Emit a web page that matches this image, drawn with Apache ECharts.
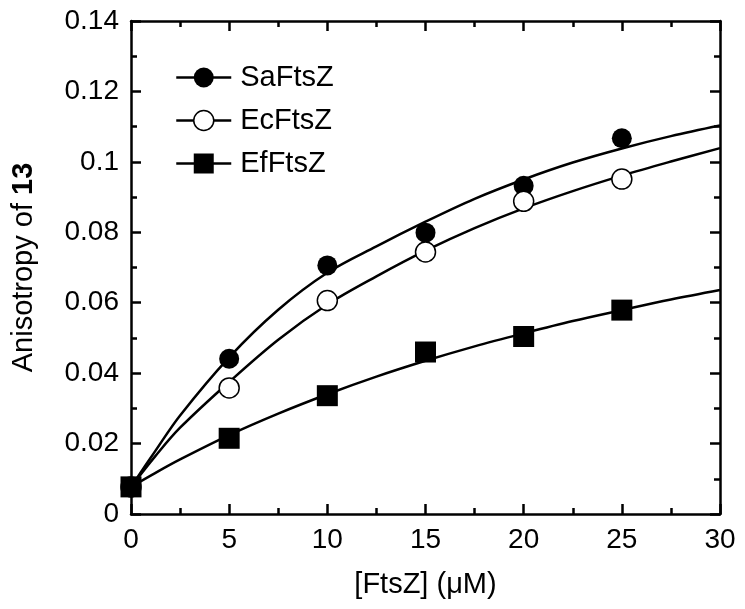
<!DOCTYPE html>
<html>
<head>
<meta charset="utf-8">
<script src="https://cdn.jsdelivr.net/npm/echarts@6/dist/echarts.min.js"></script>
<style>
html,body{margin:0;padding:0;background:#fff;}
#chart{width:745px;height:609px;}
</style>
</head>
<body>
<div id="chart"></div>
<script>
// Measured points
const xPoints = [0, 5, 10, 15, 20, 25];
const saPoints = [0.0077, 0.0441, 0.0706, 0.0799, 0.0932, 0.1067];
const ecPoints = [0.0077, 0.0358, 0.0606, 0.0744, 0.0888, 0.0951];
const efPoints = [0.0077, 0.0215, 0.0336, 0.0460, 0.0504, 0.0579];

// Fitted curves
const xCurve = [0, 1.25, 2.5, 5, 7.5, 10, 12.5, 15, 17.5, 20, 22.5, 25, 27.5, 30];
const saCurve = [0.0077, 0.0180, 0.0280, 0.0445, 0.0580, 0.0685, 0.0760, 0.0830, 0.0895, 0.0950, 0.0998, 0.1038, 0.1073, 0.1103];
const ecCurve = [0.0077, 0.0165, 0.0245, 0.0375, 0.0495, 0.0595, 0.0675, 0.0748, 0.0812, 0.0868, 0.0917, 0.0961, 0.1001, 0.1039];
const efCurve = [0.0077, 0.0117, 0.0155, 0.0224, 0.0285, 0.0340, 0.0390, 0.0435, 0.0476, 0.0513, 0.0548, 0.0579, 0.0609, 0.0636];

const seriesNames = ['SaFtsZ', 'EcFtsZ', 'EfFtsZ'];
const xTicks = { min: 0, max: 30, interval: 5 };
const yTicks = { min: 0, max: 0.14, interval: 0.02 };

const FONT = "'Liberation Sans', Arial, Helvetica, sans-serif";
const zip = (xs, ys) => xs.map((x, i) => [x, ys[i]]);

const axisLine = { show: true, onZero: false, lineStyle: { color: '#000', width: 2.5 } };
const axisTick = { show: true, inside: true, length: 10, lineStyle: { color: '#000', width: 2.5 } };
const minorTick = { show: true, splitNumber: 2, length: 6, lineStyle: { color: '#000', width: 2.5 } };

const chart = echarts.init(document.getElementById('chart'), null, { renderer: 'canvas' });

const curveSeries = (name, data, symbol, itemStyle) => ({
  name: name,
  type: 'line',
  data: data,
  smooth: 0.35,
  showSymbol: false,
  symbol: symbol,
  itemStyle: itemStyle,
  lineStyle: { color: '#000', width: 2.5, opacity: 1 },
  z: 2,
  silent: true
});
const pointSeries = (name, data, symbol, size, itemStyle) => ({
  name: name + ' data',
  type: 'scatter',
  data: data,
  symbol: symbol,
  symbolSize: size,
  itemStyle: itemStyle,
  z: 5,
  silent: true
});

const option = {
  backgroundColor: '#fff',
  animation: false,
  grid: { left: 131, right: 25, top: 21, bottom: 95, containLabel: false },
  legend: {
    data: [
      { name: seriesNames[0], itemStyle: { color: '#000', borderWidth: 0, opacity: 1 } },
      { name: seriesNames[1], itemStyle: { color: '#fff', borderColor: '#000', borderWidth: 1.5, opacity: 1 } },
      { name: seriesNames[2], itemStyle: { color: '#000', borderWidth: 0, opacity: 1 } }
    ],
    orient: 'vertical',
    left: 175,
    top: 63,
    padding: 0,
    itemWidth: 55,
    itemHeight: 25,
    itemGap: 14,
    selectedMode: false,
    lineStyle: { color: '#000', width: 2.5, opacity: 1 },
    textStyle: { fontFamily: FONT, fontSize: 29, color: '#000', padding: [0, 0, 0, 4] }
  },
  xAxis: [
    {
      type: 'value', position: 'bottom', min: xTicks.min, max: xTicks.max, interval: xTicks.interval,
      name: '[FtsZ] (μM)', nameLocation: 'middle', nameGap: 56,
      nameTextStyle: { fontFamily: FONT, fontSize: 29, color: '#000' },
      axisLine: axisLine, axisTick: axisTick, minorTick: minorTick,
      splitLine: { show: false }, minorSplitLine: { show: false },
      axisLabel: { fontFamily: FONT, fontSize: 28, color: '#000', margin: 12 }
    },
    {
      type: 'value', position: 'top', min: xTicks.min, max: xTicks.max, interval: xTicks.interval,
      axisLine: axisLine, axisTick: axisTick, minorTick: minorTick,
      splitLine: { show: false }, axisLabel: { show: false }
    }
  ],
  yAxis: [
    {
      type: 'value', position: 'left', min: yTicks.min, max: yTicks.max, interval: yTicks.interval,
      name: '{a|Anisotropy of }{b|13}', nameLocation: 'middle', nameGap: 93,
      nameTextStyle: {
        fontFamily: FONT, fontSize: 29, color: '#000',
        rich: {
          a: { fontFamily: FONT, fontSize: 29, color: '#000' },
          b: { fontFamily: FONT, fontSize: 29, color: '#000', fontWeight: 'bold' }
        }
      },
      axisLine: axisLine, axisTick: axisTick, minorTick: minorTick,
      splitLine: { show: false }, minorSplitLine: { show: false },
      axisLabel: { fontFamily: FONT, fontSize: 28, color: '#000', margin: 12 }
    },
    {
      type: 'value', position: 'right', min: yTicks.min, max: yTicks.max, interval: yTicks.interval,
      axisLine: axisLine, axisTick: axisTick, minorTick: minorTick,
      splitLine: { show: false }, axisLabel: { show: false }
    }
  ],
  series: [
    curveSeries(seriesNames[0], zip(xCurve, saCurve), 'circle', { color: '#000', opacity: 1 }),
    curveSeries(seriesNames[1], zip(xCurve, ecCurve), 'circle', { color: '#fff', borderColor: '#000', borderWidth: 1.5, opacity: 1 }),
    curveSeries(seriesNames[2], zip(xCurve, efCurve), 'rect', { color: '#000', opacity: 1 }),
    pointSeries(seriesNames[0], zip(xPoints, saPoints), 'circle', 20, { color: '#000', opacity: 1 }),
    pointSeries(seriesNames[1], zip(xPoints, ecPoints), 'circle', 20, { color: '#fff', borderColor: '#000', borderWidth: 1.5, opacity: 1 }),
    pointSeries(seriesNames[2], zip(xPoints, efPoints), 'rect', 21, { color: '#000', opacity: 1 })
  ]
};

chart.setOption(option);
</script>
</body>
</html>
